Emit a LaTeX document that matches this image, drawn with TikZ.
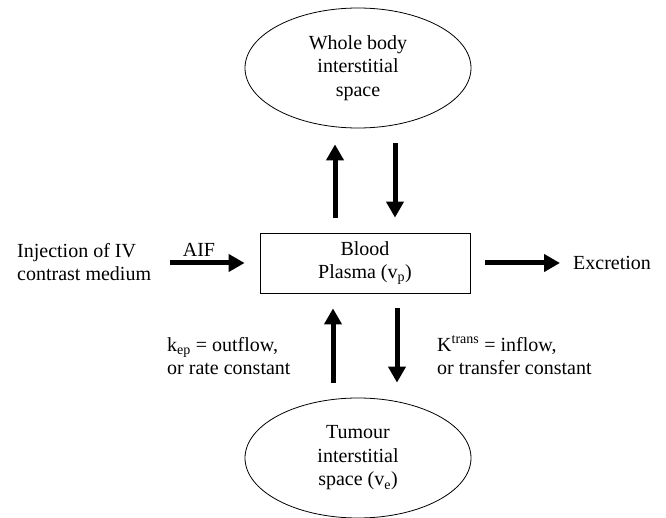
\documentclass[tikz,border=0pt]{standalone}
\usepackage{fontspec}
\setmainfont{Liberation Serif}
\usetikzlibrary{shapes.geometric,arrows.meta,calc}
\begin{document}
\begin{tikzpicture}[x=1pt,y=-1pt,
  txt/.style={font=\fontsize{20}{23}\selectfont, inner sep=0pt},
  oval/.style={ellipse, draw, line width=0.8pt, minimum width=226pt, minimum height=120pt, inner sep=0pt, align=center, font=\fontsize{20}{23.5}\selectfont},
  boxnode/.style={rectangle, draw, line width=0.8pt, minimum width=210pt, minimum height=60pt, inner sep=0pt, align=center, font=\fontsize{20}{23}\selectfont},
  arr/.style={line width=5pt, -{Triangle[length=16pt,width=17pt]}}]
\useasboundingbox (0,0) rectangle (666,518);
\node[oval] (top) at (358,68) {Whole body\\interstitial\\space};
\node[oval] (bot) at (358,458) {Tumour\\interstitial\\space (v\textsubscript{e})};
\node[boxnode] (box) at (365,263) {Blood\\Plasma (v\textsubscript{p})};
\node[txt, anchor=west, align=left] (inj) at (17,262) {Injection of IV\\contrast medium};
\node[txt] (aif) at (199,250) {AIF};
\node[txt, anchor=west] (exc) at (573,263) {Excretion};
\node[txt, anchor=west, align=left] (kep) at (167,356) {k\textsubscript{ep} = outflow,\\or rate constant};
\node[txt, anchor=west, align=left] (ktr) at (437,355) {K\textsuperscript{trans} = inflow,\\or transfer constant};
% top arrows
\coordinate (a1s) at ($(box.north)+(-30,-15)$);
\coordinate (a1e) at ($(top.south)+(-23,16)$);
\coordinate (a2s) at ($(top.south)+(37,15)$);
\coordinate (a2e) at ($(box.north)+(30,-15)$);
\draw[arr] (a1s) -- (a1e);
\draw[arr] (a2s) -- (a2e);
% bottom arrows
\coordinate (b1s) at ($(bot.north)+(-25,-15)$);
\coordinate (b1e) at ($(box.south)+(-32,15)$);
\coordinate (b2s) at ($(box.south)+(32,15)$);
\coordinate (b2e) at ($(bot.north)+(39,-15)$);
\draw[arr] (b1s) -- (b1e);
\draw[arr] (b2s) -- (b2e);
% side arrows
\coordinate (c1s) at (170,263);
\draw[arr] (c1s) -- ($(box.west)+(-15,0)$);
\coordinate (c2e) at (560,263);
\draw[arr] ($(box.east)+(15,0)$) -- (c2e);
\end{tikzpicture}
\end{document}
